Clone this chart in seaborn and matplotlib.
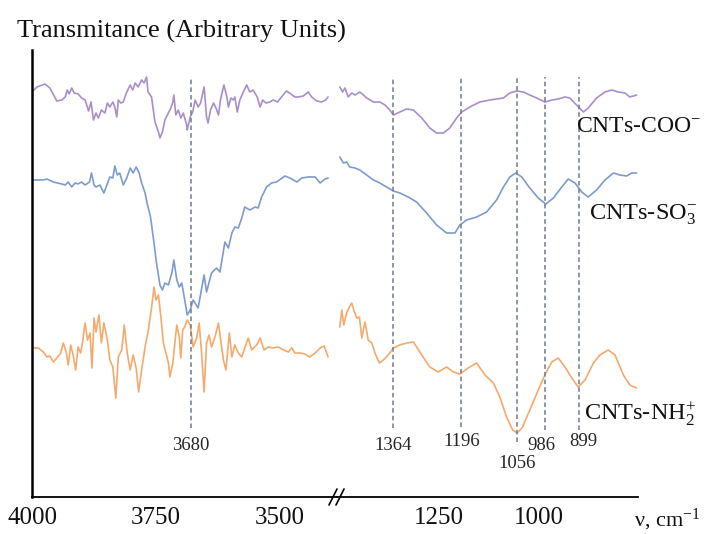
import pandas as pd
import seaborn as sns
import matplotlib.pyplot as plt
from matplotlib.lines import Line2D

# wavenumber (cm-1) and transmittance (arbitrary units)
coo_hi_wn = [4000, 3990, 3974, 3964, 3950, 3940, 3933, 3929, 3925, 3920,
             3915, 3907, 3900, 3893, 3886, 3881, 3876, 3871, 3866, 3860,
             3853, 3848, 3843, 3837, 3833, 3829, 3826, 3821, 3816, 3809,
             3802, 3797, 3792, 3786, 3779, 3774, 3769, 3766, 3759, 3752,
             3745, 3742, 3737, 3732, 3725, 3720, 3716, 3714, 3710, 3705,
             3700, 3695, 3688, 3687, 3681, 3676, 3671, 3665, 3660, 3653,
             3648, 3645, 3640, 3634, 3629, 3624, 3620, 3613, 3607, 3604,
             3599, 3594, 3591, 3586, 3581, 3574, 3567, 3561, 3554, 3546,
             3540, 3535, 3528, 3520, 3514, 3505, 3497, 3487, 3478, 3470,
             3463, 3453, 3443, 3436, 3426, 3416, 3408, 3403]
coo_hi_t = [408, 413, 416, 412, 399, 400, 403, 410, 406, 412,
            407, 406, 402, 400, 389, 398, 380, 387, 382, 390,
            387, 397, 393, 398, 393, 383, 400, 397, 398, 408,
            415, 410, 417, 413, 420, 417, 423, 408, 403, 378,
            368, 362, 368, 380, 387, 392, 398, 405, 385, 390,
            382, 387, 375, 370, 383, 388, 400, 393, 397, 413,
            383, 377, 390, 397, 392, 385, 400, 415, 403, 393,
            402, 400, 403, 388, 400, 408, 415, 408, 410, 403,
            393, 400, 397, 398, 400, 398, 403, 409, 406, 403,
            403, 404, 408, 403, 399, 398, 400, 403]

so3_hi_wn = [4000, 3977, 3970, 3957, 3940, 3933, 3927, 3920, 3913, 3907,
             3900, 3893, 3884, 3880, 3875, 3871, 3863, 3855, 3849, 3843,
             3837, 3833, 3828, 3823, 3816, 3809, 3802, 3796, 3790, 3784,
             3779, 3772, 3768, 3761, 3754, 3749, 3742, 3737, 3732, 3725,
             3718, 3714, 3708, 3703, 3698, 3692, 3687, 3681, 3675, 3665,
             3653, 3648, 3638, 3628, 3621, 3611, 3604, 3597, 3591, 3584,
             3577, 3571, 3561, 3550, 3544, 3537, 3527, 3517, 3507, 3490,
             3480, 3466, 3456, 3443, 3429, 3419, 3409, 3403]
so3_hi_t = [320, 320, 321, 318, 316, 315, 318, 313, 317, 316,
            318, 315, 318, 327, 315, 313, 315, 307, 315, 323,
            322, 334, 325, 327, 315, 322, 332, 327, 333, 327,
            317, 307, 297, 283, 257, 237, 215, 210, 217, 215,
            227, 240, 220, 213, 217, 200, 185, 190, 200, 192,
            225, 208, 227, 232, 228, 258, 252, 267, 273, 272,
            282, 293, 290, 293, 292, 303, 313, 317, 318, 324,
            322, 318, 322, 323, 323, 317, 321, 322]

nh2_hi_wn = [4000, 3987, 3977, 3970, 3964, 3957, 3950, 3942, 3937, 3931,
             3927, 3922, 3917, 3912, 3907, 3902, 3898, 3893, 3888, 3883,
             3879, 3875, 3871, 3865, 3860, 3855, 3848, 3843, 3837, 3831,
             3826, 3819, 3814, 3808, 3802, 3796, 3790, 3785, 3779, 3772,
             3766, 3759, 3754, 3750, 3745, 3741, 3735, 3730, 3725, 3722,
             3716, 3712, 3708, 3703, 3700, 3696, 3692, 3687,
             3681, 3675, 3668, 3663, 3658, 3653, 3648, 3643, 3638, 3631,
             3624, 3620, 3614, 3609, 3602, 3597, 3591, 3584, 3577, 3571,
             3564, 3557, 3547, 3540, 3532, 3524, 3514, 3503, 3493, 3483,
             3476, 3470, 3460, 3450, 3440, 3429, 3419, 3411, 3403]
nh2_hi_t = [152, 152, 148, 143, 144, 138, 142, 147, 157, 148,
            135, 155, 145, 130, 153, 147, 158, 177, 160, 167,
            132, 182, 168, 185, 157, 177, 160, 140, 133, 102,
            143, 150, 175, 147, 130, 145, 132, 108, 130, 153,
            168, 192, 213, 200, 205, 187, 157, 147, 137, 123,
            137, 157, 175, 163, 142, 170, 173, 180,
            175, 153, 162, 177, 147, 108, 157, 165, 153, 163,
            177, 162, 140, 130, 167, 143, 155, 147, 143, 152,
            162, 150, 155, 162, 150, 153, 152, 153, 150, 148,
            152, 147, 147, 146, 143, 147, 152, 154, 143]

coo_lo_wn = [1498, 1491, 1485, 1477, 1468, 1460, 1448, 1439, 1431, 1414,
             1398, 1385, 1373, 1364, 1348, 1331, 1314, 1293, 1273, 1256,
             1239, 1223, 1206, 1193, 1173, 1148, 1123, 1106, 1089, 1073,
             1056, 1039, 1023, 1006, 985, 968, 952, 935, 923, 906,
             889, 877, 856, 835, 818, 802, 785, 773, 756]
coo_lo_t = [413, 408, 412, 403, 407, 405, 408, 405, 402, 398,
            398, 395, 390, 385, 388, 391, 390, 382, 372, 367,
            367, 372, 382, 388, 393, 398, 400, 401, 402, 407,
            409, 408, 405, 402, 398, 400, 401, 403, 402, 395,
            388, 392, 402, 408, 410, 408, 407, 403, 405]

so3_lo_wn = [1498, 1489, 1481, 1473, 1460, 1448, 1431, 1414, 1398, 1381,
             1364, 1348, 1327, 1306, 1281, 1256, 1231, 1210, 1198, 1181,
             1156, 1131, 1106, 1089, 1073, 1058, 1043, 1023, 1002, 983,
             964, 943, 927, 910, 893, 877, 856, 835, 814, 798,
             781, 768, 756]
so3_lo_t = [343, 337, 338, 333, 332, 330, 325, 320, 317, 313,
            309, 307, 303, 298, 287, 275, 267, 267, 275, 280,
            283, 288, 300, 313, 323, 327, 323, 312, 302, 296,
            302, 313, 321, 317, 308, 303, 310, 320, 327, 325,
            324, 327, 327]

nh2_lo_wn = [1498, 1493, 1488, 1481, 1474, 1468, 1463, 1456, 1449, 1443,
             1435, 1427, 1418, 1410, 1399, 1389, 1377, 1364, 1348, 1331,
             1314, 1293, 1273, 1252, 1231, 1214, 1198, 1177, 1156, 1135,
             1114, 1098, 1081, 1066, 1054, 1041, 1023, 1002, 983, 968,
             952, 935, 918, 902, 885, 864, 848, 827, 810, 789,
             773, 756]
nh2_lo_t = [173, 190, 175, 187, 193, 197, 190, 182, 183, 162,
            178, 160, 157, 147, 137, 140, 145, 152, 155, 157,
            158, 145, 133, 128, 133, 128, 126, 132, 137, 125,
            117, 103, 83, 70, 67, 73, 90, 110, 127, 138,
            142, 133, 122, 113, 120, 137, 145, 150, 145, 125,
            115, 112]

samples = ['COO', 'SO3', 'NH2']
colors = {'COO': '#a98fca', 'SO3': '#7e9bcd', 'NH2': '#f6a96c'}
peaks = [3680, 1364, 1196, 1056, 986, 899]
peak_labels = ['3680', '1364', '1196', '1056', '986', '899']


def long_df(wns, ts):
    parts = [pd.DataFrame({'wn': w, 't': t, 'sample': s}) for w, t, s in zip(wns, ts, samples)]
    return pd.concat(parts, ignore_index=True)


hi = long_df([coo_hi_wn, so3_hi_wn, nh2_hi_wn], [coo_hi_t, so3_hi_t, nh2_hi_t])
lo = long_df([coo_lo_wn, so3_lo_wn, nh2_lo_wn], [coo_lo_t, so3_lo_t, nh2_lo_t])

sns.set_theme(style='white')
plt.rcParams['font.family'] = ['Liberation Serif', 'DejaVu Serif']
plt.rcParams['mathtext.fontset'] = 'custom'
plt.rcParams['mathtext.rm'] = 'Liberation Serif'
plt.rcParams['mathtext.it'] = 'Liberation Serif:italic'

W, H = 704, 534
fig = plt.figure(figsize=(W / 100, H / 100), dpi=100)
ax1 = fig.add_axes([32 / W, 37 / H, 305 / W, 447 / H])
ax2 = fig.add_axes([337 / W, 37 / H, 301 / W, 447 / H])

for ax, df in [(ax1, hi), (ax2, lo)]:
    sns.lineplot(data=df, x='wn', y='t', hue='sample', palette=colors,
                 estimator=None, sort=False, legend=False, linewidth=1.2, ax=ax)
    ax.set_ylim(3, 450)
    ax.set_yticks([])
    ax.set_xlabel('')
    ax.set_ylabel('')
    ax.set_facecolor('none')
    for s in ['top', 'right']:
        ax.spines[s].set_visible(False)
    ax.spines['bottom'].set_color('black')
    ax.spines['bottom'].set_linewidth(1.3)
    ax.tick_params(axis='x', which='both', direction='out', length=5, width=1,
                   color='black', labelsize=18, pad=2, labelcolor='#111111')

ax1.set_xlim(4000, 3385)
ax1.set_xticks([4000, 3750, 3500])
ax1.set_xticks([3875, 3625], minor=True)
ax1.spines['left'].set_color('black')
ax1.spines['left'].set_linewidth(1.8)

ax2.set_xlim(1505, 752.5)
ax2.set_xticks([1250, 1000])
ax2.set_xticks([1375, 1125, 875], minor=True)
ax2.spines['left'].set_visible(False)

# dashed peak markers and their labels
dash = dict(colors='#6f7b8c', linestyles=(0, (3, 2)), linewidth=1.1)
ax1.vlines(peaks[0], 72, 423, **dash)
ax1.text(peaks[0], 54, peak_labels[0], ha='center', va='center', fontsize=13.5)
bottoms = [72, 73, 58, 70, 70]
label_y = [55, 58, 37, 55, 58]
offsets = [0, 1, 0, -2, 3]
for p, lab, b, ly, dx in zip(peaks[1:], peak_labels[1:], bottoms, label_y, offsets):
    ax2.vlines(p, b, 423, **dash)
    ax2.annotate(lab, (p, ly), xytext=(dx, 0), textcoords='offset points',
                 ha='center', va='center', fontsize=13.5)

# series names
fig.text(701 / W, 1 - 126 / H, r'CNTs-COO$^{-}$', fontsize=17, ha='right', va='center', color='#111111')
fig.text(589 / W, 1 - 215 / H, r'CNTs-SO$_3^{-}$', fontsize=17.5, va='center', color='#111111')
fig.text(584 / W, 1 - 414 / H, r'CNTs-NH$_2^{+}$', fontsize=17.5, va='center', color='#111111')

fig.text(17 / W, 1 - 31 / H, 'Transmitance (Arbitrary Units)', fontsize=19,
         va='center', color='#111111')
fig.text(700 / W, 1 - 520 / H, r'ν, cm$^{-1}$', fontsize=16, ha='right', va='center', color='#111111')

# axis break marks
for x0 in [329, 336]:
    fig.add_artist(Line2D([x0 / W, (x0 + 8) / W], [1 - 505 / H, 1 - 489 / H],
                          color='black', linewidth=1.2))

fig.savefig('out.png', dpi=100)
